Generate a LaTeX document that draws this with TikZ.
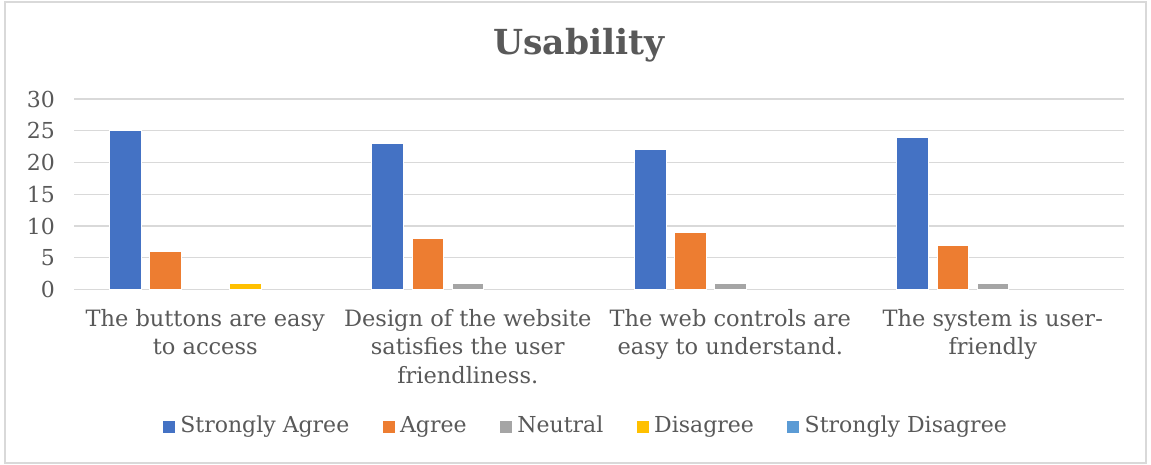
\documentclass[tikz,border=0pt]{standalone}
\usepackage{fontspec}
\setmainfont{DejaVu Serif}
\usetikzlibrary{positioning}

\definecolor{sagree}{HTML}{4472C4}
\definecolor{agree}{HTML}{ED7D31}
\definecolor{neutral}{HTML}{A5A5A5}
\definecolor{disagree}{HTML}{FFC000}
\definecolor{sdisagree}{HTML}{5B9BD5}
\definecolor{inkgray}{HTML}{595959}
\definecolor{gridgray}{HTML}{D9D9D9}

\begin{document}
\begin{tikzpicture}[x=1pt, y=-1pt,
  ticklabel/.style={anchor=east, inner sep=0, text=inkgray, font=\fontsize{22}{26}\selectfont},
  catlabel/.style={anchor=north, inner sep=0, align=center, text=inkgray, font=\fontsize{22.5}{28.5}\selectfont},
  swatch/.style={minimum size=12pt, inner sep=0, fill=#1},
  legtext/.style={inner sep=0, text height=16pt, text depth=5pt, text=inkgray, font=\fontsize{22}{26}\selectfont},
  gridline/.style={draw=gridgray, line width=1.3pt},
  barbox/.style={fill=#1, draw=white, line width=0.6pt}]

  % page and frame
  \fill[white] (0,0) rectangle (1151,465);
  \useasboundingbox (0,0) rectangle (1151,465);
  \draw[gridgray, line width=1.3pt] (5,2) rectangle (1146,463);

  % title
  \node[text=inkgray, font=\fontsize{34.5}{40}\selectfont\bfseries] (title) at (579,45) {Usability};

  % grid and value axis
  \foreach \k [evaluate=\k as \lab using int(5*\k)] in {0,...,6} {
    \draw[gridline] (74,{289.5-31.75*\k}) -- (1124,{289.5-31.75*\k});
    \node[ticklabel] (y\k) at (55,{289.5-31.75*\k}) {\lab};
  }

  % bars, one series at a time
  \foreach \col/\a/\b/\c/\d [count=\j from 0] in
      {sagree/25/23/22/24, agree/6/8/9/7, neutral/0/1/1/1,
       disagree/1/0/0/0, sdisagree/0/0/0/0} {
    \foreach \v [count=\i from 0] in {\a,\b,\c,\d} {
      \ifnum\v>0
        \filldraw[barbox=\col] ({205.25+262.5*\i+40.1*(\j-2)-15.8},289.5)
          rectangle ++(31.6,{-6.35*\v});
      \fi
    }
  }

  % categories
  \node[catlabel] (cat1) at (205.25,309) {The buttons are easy\\to access};
  \node[catlabel] (cat2) at (467.75,309) {Design of the website\\satisfies the user\\friendliness.};
  \node[catlabel] (cat3) at (730.25,309) {The web controls are\\easy to understand.};
  \node[catlabel] (cat4) at (992.75,309) {The system is user-\\friendly};

  % legend
  \node[swatch=sagree] (kSA) at (169,427) {};
  \node[legtext, right=5pt of kSA] (lSA) {Strongly Agree};
  \node[swatch=agree, right=33pt of lSA] (kA) {};
  \node[legtext, right=5pt of kA] (lA) {Agree};
  \node[swatch=neutral, right=33pt of lA] (kN) {};
  \node[legtext, right=5pt of kN] (lN) {Neutral};
  \node[swatch=disagree, right=33pt of lN] (kD) {};
  \node[legtext, right=5pt of kD] (lD) {Disagree};
  \node[swatch=sdisagree, right=33pt of lD] (kSD) {};
  \node[legtext, right=5pt of kSD] (lSD) {Strongly Disagree};
\end{tikzpicture}
\end{document}
